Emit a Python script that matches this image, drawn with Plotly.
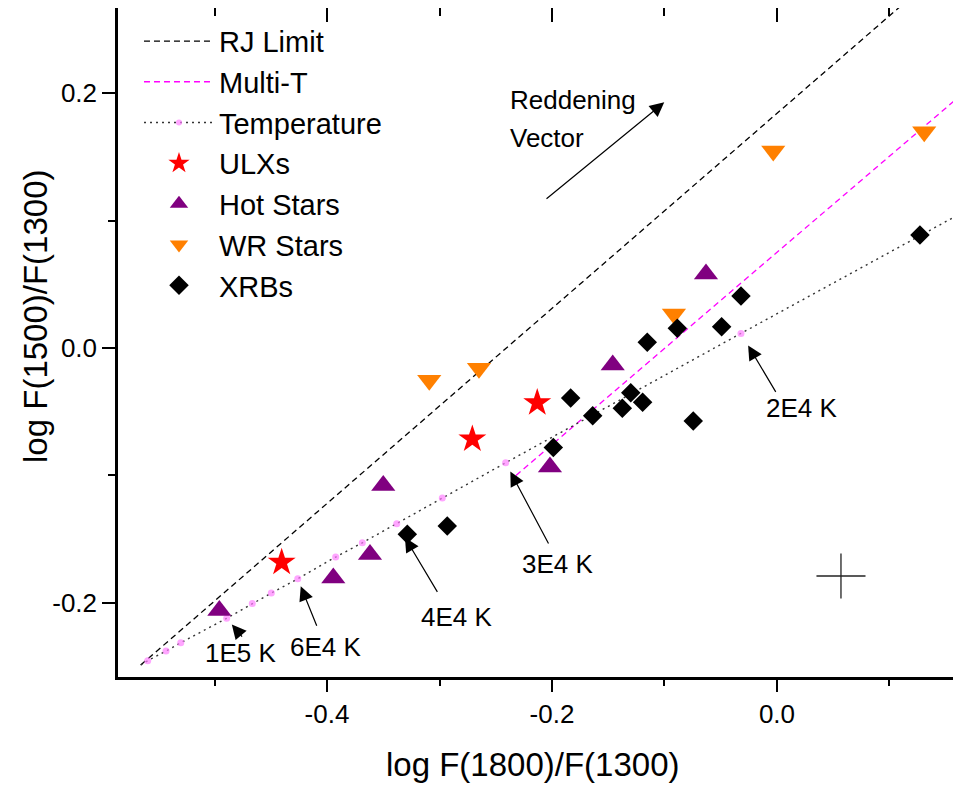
import plotly.graph_objects as go

# ---------------- data ----------------
rj_x = [-0.5656, 0.125]
rj_y = [-0.2489, 0.2800]

multi_x = [-0.232, 0.180]
multi_y = [-0.100, 0.211]

# temperature sequence (RJ point, visible dots, extension beyond the frame)
temp_x = [-0.5656, -0.5594, -0.5431, -0.5300, -0.4892, -0.4664, -0.4495, -0.4260,
          -0.3923, -0.3686, -0.3380, -0.2975, -0.2412, -0.0320, 0.180]
temp_y = [-0.2489, -0.2455, -0.2379, -0.2314, -0.2122, -0.2005, -0.1924, -0.1812,
          -0.1641, -0.1529, -0.1380, -0.1178, -0.0901, 0.0115, 0.1137]
temp_size = [0] + [7] * 13 + [0]

# labelled temperatures: label, index in temp arrays, tail of arrow (x, y), text centre (x, y), standoff
temp_labels = ["1E5 K", "6E4 K", "4E4 K", "3E4 K", "2E4 K"]
temp_label_idx = [4, 7, 10, 12, 13]
arrow_tail_x = [-0.4744, -0.4086, -0.3011, -0.2024, -0.0003]
arrow_tail_y = [-0.2277, -0.2193, -0.1926, -0.1547, -0.0356]
label_x = [-0.4773, -0.4009, -0.2853, -0.1947, 0.0222]
label_y = [-0.2395, -0.2348, -0.2112, -0.1696, -0.0467]
arrow_standoff = [8, 8, 16, 10, 14]

ulx_x = [-0.4403, -0.2708, -0.2131]
ulx_y = [-0.1683, -0.0715, -0.0430]

hot_x = [-0.4957, -0.3944, -0.3618, -0.3500, -0.2018, -0.1460, -0.0631]
hot_y = [-0.2061, -0.1806, -0.1622, -0.1080, -0.0934, -0.0133, 0.0581]

wr_x = [-0.3091, -0.2649, -0.0916, -0.0033, 0.1309]
wr_y = [-0.0253, -0.0159, 0.0267, 0.1548, 0.1698]

xrb_x = [-0.3286, -0.2931, -0.1988, -0.1834, -0.1638, -0.1375, -0.1300, -0.1194,
         -0.1153, -0.0886, -0.0744, -0.0492, -0.0320, 0.1271]
xrb_y = [-0.1463, -0.1398, -0.0780, -0.0393, -0.0532, -0.0473, -0.0351, -0.0426,
         0.0045, 0.0155, -0.0573, 0.0167, 0.0408, 0.0887]

err_x = [0.0569]
err_y = [-0.1790]
err_dx = [0.0218]
err_dy = [0.0177]

redden_tail = [-0.2062, 0.1162]
redden_tip = [-0.1002, 0.1929]

x_ticks = [-0.4, -0.2, 0.0]
x_ticktext = ["-0.4", "-0.2", "0.0"]
x_minor = [-0.5, -0.3, -0.1, 0.1]
y_ticks = [-0.2, 0.0, 0.2]
y_ticktext = ["-0.2", "0.0", "0.2"]
y_minor = [-0.1, 0.1]

x_range = [-0.5858, 0.1636]
y_range = [-0.2583, 0.2670]

FONT = "Liberation Sans, Arial, sans-serif"

# ---------------- figure ----------------
fig = go.Figure()
fig.add_trace(go.Scatter(x=rj_x, y=rj_y, mode="lines", name="RJ Limit",
                         line=dict(color="black", width=1.3, dash="6px,4px")))
fig.add_trace(go.Scatter(x=multi_x, y=multi_y, mode="lines", name="Multi-T",
                         line=dict(color="#FF00FF", width=1.3, dash="6px,4px")))
fig.add_trace(go.Scatter(x=temp_x, y=temp_y, mode="lines+markers", name="Temperature",
                         line=dict(color="#333333", width=1.4, dash="2px,4px"),
                         marker=dict(size=temp_size, color="#FF80FF", line=dict(width=0))))
fig.add_trace(go.Scatter(x=ulx_x, y=ulx_y, mode="markers", name="ULXs",
                         marker=dict(symbol="star", size=21, color="#FF0000", line=dict(width=0))))
fig.add_trace(go.Scatter(x=hot_x, y=hot_y, mode="markers", name="Hot Stars",
                         marker=dict(symbol="triangle-up", size=21, color="#800080", line=dict(width=0))))
fig.add_trace(go.Scatter(x=wr_x, y=wr_y, mode="markers", name="WR Stars",
                         marker=dict(symbol="triangle-down", size=21, color="#FF8000", line=dict(width=0))))
fig.add_trace(go.Scatter(x=xrb_x, y=xrb_y, mode="markers", name="XRBs",
                         marker=dict(symbol="diamond", size=15, color="#000000", line=dict(width=0))))
fig.add_trace(go.Scatter(x=err_x, y=err_y, mode="markers", showlegend=False,
                         xaxis="x2", yaxis="y2",
                         marker=dict(size=1, color="rgba(0,0,0,0)"),
                         error_x=dict(type="data", array=err_dx, width=0, thickness=1.3, color="#222222"),
                         error_y=dict(type="data", array=err_dy, width=0, thickness=1.3, color="#222222")))

annotations = []
for lab, i, tx, ty, lx, ly, so in zip(temp_labels, temp_label_idx, arrow_tail_x, arrow_tail_y,
                                      label_x, label_y, arrow_standoff):
    annotations.append(dict(x=temp_x[i], y=temp_y[i], ax=tx, ay=ty, xref="x", yref="y",
                            axref="x", ayref="y", text="", showarrow=True, arrowhead=2,
                            arrowsize=2.4, arrowwidth=1.2, arrowcolor="black", standoff=so))
    annotations.append(dict(x=lx, y=ly, xref="x", yref="y", text=lab, showarrow=False,
                            xanchor="center", yanchor="middle",
                            font=dict(family=FONT, size=26, color="black")))

annotations.append(dict(x=redden_tip[0], y=redden_tip[1], ax=redden_tail[0], ay=redden_tail[1],
                        xref="x", yref="y", axref="x", ayref="y", text="", showarrow=True,
                        arrowhead=2, arrowsize=2.4, arrowwidth=1.2, arrowcolor="black"))
annotations.append(dict(x=-0.2388, y=0.1947, xref="x", yref="y", text="Reddening",
                        showarrow=False, xanchor="left", yanchor="middle",
                        font=dict(family=FONT, size=26, color="black")))
annotations.append(dict(x=-0.2388, y=0.1649, xref="x", yref="y", text="Vector",
                        showarrow=False, xanchor="left", yanchor="middle",
                        font=dict(family=FONT, size=26, color="black")))
annotations.append(dict(x=0.4917, y=-0.1315, xref="paper", yref="paper", text="log F(1800)/F(1300)",
                        showarrow=False, xanchor="center", yanchor="middle",
                        font=dict(family=FONT, size=33, color="black")))
annotations.append(dict(x=-0.0985, y=0.5396, xref="paper", yref="paper", text="log F(1500)/F(1300)",
                        showarrow=False, textangle=-90, xanchor="center", yanchor="middle",
                        font=dict(family=FONT, size=33, color="black")))

axis_common = dict(showgrid=False, zeroline=False, tickcolor="black", tickwidth=2,
                   automargin=False, tickfont=dict(family=FONT, size=26, color="black"))

fig.update_layout(
    template="none",
    width=961, height=775,
    margin=dict(l=110, r=8, t=0, b=106, autoexpand=False),
    plot_bgcolor="white", paper_bgcolor="white",
    font=dict(family=FONT, color="black"),
    xaxis=dict(range=x_range, tickmode="array", tickvals=x_ticks, ticktext=x_ticktext,
               ticks="outside", ticklen=12, showline=True, linewidth=2.5, linecolor="black",
               minor=dict(tickmode="array", tickvals=x_minor, ticks="outside", ticklen=6,
                          tickwidth=2, tickcolor="black"),
               **axis_common),
    yaxis=dict(range=y_range, tickmode="array", tickvals=y_ticks, ticktext=y_ticktext,
               ticks="outside", ticklen=13, showline=True, linewidth=2.5, linecolor="black",
               minor=dict(tickmode="array", tickvals=y_minor, ticks="outside", ticklen=7,
                          tickwidth=2, tickcolor="black"),
               **axis_common),
    xaxis2=dict(range=x_range, overlaying="x", side="top", anchor="y2", tickmode="array",
                tickvals=x_ticks, ticks="inside", ticklen=14, showticklabels=False,
                showline=True, linewidth=2.5, linecolor="black",
                minor=dict(tickmode="array", tickvals=x_minor, ticks="inside", ticklen=8,
                           tickwidth=2, tickcolor="black"),
                **axis_common),
    yaxis2=dict(range=y_range, overlaying="y", side="right", anchor="x2", tickmode="array",
                tickvals=y_ticks, ticks="inside", ticklen=6, showticklabels=False,
                showline=False, **axis_common),
    legend=dict(x=0.0249, y=0.9885, xanchor="left", yanchor="top", bgcolor="rgba(0,0,0,0)",
                font=dict(family=FONT, size=29, color="black"), itemwidth=70,
                tracegroupgap=0),
    annotations=annotations,
    showlegend=True,
)

fig.write_html("out.html")
